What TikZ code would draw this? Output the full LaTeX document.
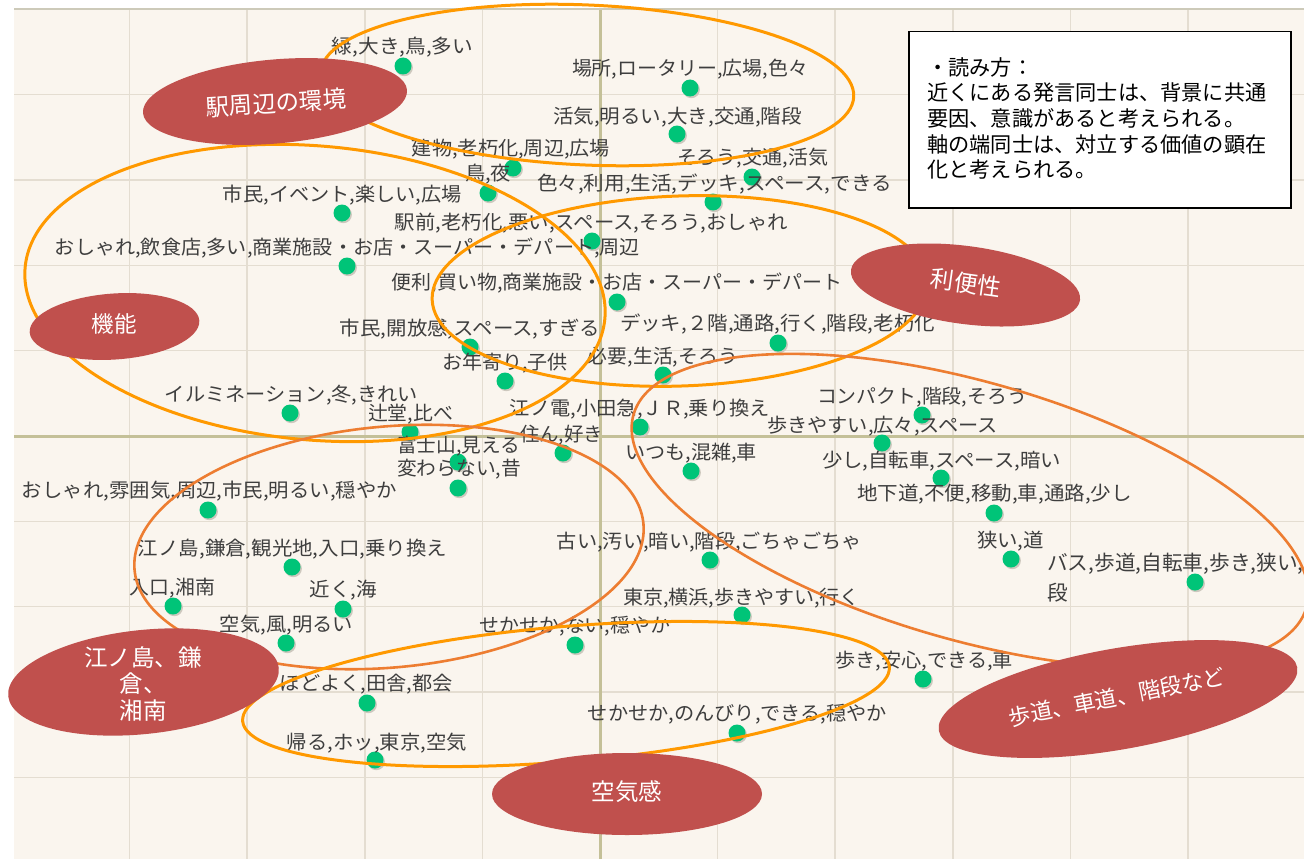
\documentclass[tikz,border=0pt]{standalone}
\usepackage{fontspec}
\usepackage{graphicx}
\setmainfont{Noto Sans CJK JP}
\usetikzlibrary{shapes.geometric}
\definecolor{bgc}{RGB}{250,245,238}
\definecolor{gridc}{RGB}{228,221,209}
\definecolor{axisc}{RGB}{196,192,152}
\definecolor{topc}{RGB}{205,202,185}
\definecolor{dotc}{RGB}{0,196,120}
\definecolor{shadowc}{RGB}{205,200,190}
\definecolor{txtc}{RGB}{62,62,62}
\definecolor{amber}{RGB}{255,153,0}
\definecolor{dorange}{RGB}{237,125,49}
\definecolor{redc}{RGB}{192,80,77}
\newcommand\kwpt[7]{%
  \fill[shadowc] (#2+1.3,#3+1.6) circle[radius=8.6];
  \node[dotn] (d#1) at (#2,#3) {};
  \node[lbl] (t#1) at (#4,#5) {\resizebox{#6pt}{\height}{#7}};
}
\begin{document}
\begin{tikzpicture}[x=1pt,y=-1pt,
  dotn/.style={circle,fill=dotc,minimum size=17pt,inner sep=0pt},
  lbl/.style={inner sep=0pt,text=txtc,font=\fontsize{19.5}{23}\selectfont,text height=17.2pt,text depth=2.3pt},
  ring/.style={ellipse,draw=#1,inner sep=0pt,line width=3pt},
  redlab/.style={ellipse,fill=redc,inner sep=0pt},
  redtxt/.style={text=white,inner sep=0pt,font=\fontsize{23.5}{26.5}\selectfont},
  gridl/.style={draw=gridc,line width=1.5pt},
  axisl/.style={draw=axisc,line width=3pt}]
\useasboundingbox (0,0) rectangle (1304,859);
\fill[white] (0,0) rectangle (1304,859);
\fill[bgc] (14,9) rectangle (1304,859);
% grid
\foreach \gx in {129.6,247.2,364.8,482.4,717.6,835.2,952.8,1070.4,1188}
  \draw[gridl] (\gx,9) -- (\gx,859);
\foreach \gy in {94.7,180,265.3,350.7,521.3,606.7,692,777.3}
  \draw[gridl] (14,\gy) -- (1304,\gy);
\draw[axisl] (600,9) -- (600,859);
\draw[axisl] (14,436) -- (1304,436);
\draw[topc,line width=2pt] (14,9) -- (1304,9);
% points
\kwpt{1}{403}{66}{402.5}{46}{141}{緑,大き,鳥,多い}
\kwpt{2}{690}{88}{690}{68}{236}{場所,ロータリー,広場,色々}
\kwpt{3}{677}{134}{677.5}{116}{249}{活気,明るい,大き,交通,階段}
\kwpt{4}{513}{168}{511}{148}{198}{建物,老朽化,周辺,広場}
\kwpt{5}{488}{193}{488}{173}{46}{鳥,夜}
\kwpt{6}{342}{213}{342.5}{194}{239}{市民,イベント,楽しい,広場}
\kwpt{7}{592}{241}{591.5}{222}{393}{駅前,老朽化,悪い,スペース,そろう,おしゃれ}
\kwpt{8}{347}{266}{347.5}{247}{585}{おしゃれ,飲食店,多い,商業施設・お店・スーパー・デパート,周辺}
\kwpt{9}{752}{177}{752.5}{157}{151}{そろう,交通,活気}
\kwpt{10}{713}{202}{714.5}{183}{355}{色々,利用,生活,デッキ,スペース,できる}
\kwpt{11}{617}{302}{617}{282}{450}{便利,買い物,商業施設・お店・スーパー・デパート}
\kwpt{12}{778}{343}{777.5}{323}{315}{デッキ,２階,通路,行く,階段,老朽化}
\kwpt{13}{470}{347}{470}{328}{260}{市民,開放感,スペース,すぎる}
\kwpt{14}{505}{381}{505}{362}{126}{お年寄り,子供}
\kwpt{15}{663}{375}{663}{356}{150}{必要,生活,そろう}
\kwpt{16}{290}{413}{291.5}{394}{253}{イルミネーション,冬,きれい}
\kwpt{17}{410}{432}{410.5}{413}{85}{辻堂,比べ}
\kwpt{18}{640}{427}{640}{408}{260}{江ノ電,小田急,ＪＲ,乗り換え}
\kwpt{19}{563}{453}{561.5}{434}{83}{住ん,好き}
\kwpt{20}{458}{462}{458.5}{445}{123}{富士山,見える}
\kwpt{21}{458}{488}{459}{468}{124}{変わらない,昔}
\kwpt{22}{691}{471}{691}{452}{132}{いつも,混雑,車}
\kwpt{23}{922}{415}{922}{396}{210}{コンパクト,階段,そろう}
\kwpt{24}{882}{443}{882.5}{425}{231}{歩きやすい,広々,スペース}
\kwpt{25}{941}{478}{941.5}{460}{239}{少し,自転車,スペース,暗い}
\kwpt{26}{994}{513}{994.5}{493}{275}{地下道,不便,移動,車,通路,少し}
\kwpt{27}{1011}{559}{1010.5}{540}{67}{狭い,道}
\fill[shadowc] (1195+1.3,582+1.6) circle[radius=8.6];
\node[dotn] (d28) at (1195,582) {};
\node[inner sep=0pt,text=txtc,font=\fontsize{20.7}{29.5}\selectfont,align=left,anchor=north west] (t28) at (1047,553) {バス,歩道,自転車,歩き,狭い,階\\段};
\kwpt{29}{208}{510}{209.5}{490}{375}{おしゃれ,雰囲気,周辺,市民,明るい,穏やか}
\kwpt{30}{292}{567}{292.5}{548}{309}{江ノ島,鎌倉,観光地,入口,乗り換え}
\kwpt{31}{710}{560}{709.5}{541}{305}{古い,汚い,暗い,階段,ごちゃごちゃ}
\kwpt{32}{173}{606}{172.5}{587}{85}{入口,湘南}
\kwpt{33}{343}{609}{343.5}{589}{67}{近く,海}
\kwpt{34}{286}{643}{286.5}{624}{133}{空気,風,明るい}
\kwpt{35}{742}{615}{741.5}{597}{237}{東京,横浜,歩きやすい,行く}
\kwpt{36}{575}{645}{575}{625}{190}{せかせか,ない,穏やか}
\kwpt{37}{923}{679}{924}{660}{178}{歩き,安心,できる,車}
\kwpt{38}{367}{703}{366.5}{683}{173}{ほどよく,田舎,都会}
\kwpt{39}{737}{733}{737.5}{713}{299}{せかせか,のんびり,できる,穏やか}
\kwpt{40}{375}{760}{377}{742}{180}{帰る,ホッ,東京,空気}
% group rings
\node[ring=amber,minimum width=534pt,minimum height=160pt,rotate=-2.5] (rA) at (587,85) {};
\node[ring=amber,minimum width=582pt,minimum height=294pt,rotate=-5] (rB) at (315,293) {};
\node[ring=amber,minimum width=496pt,minimum height=190pt,rotate=2] (rC) at (680,291) {};
\node[ring=dorange,line width=2.6pt,minimum width=511pt,minimum height=241pt,rotate=5.2] (rD) at (389,547) {};
\node[ring=dorange,line width=2.6pt,minimum width=700pt,minimum height=258pt,rotate=-16] (rE) at (970,511) {};
\node[ring=amber,minimum width=649pt,minimum height=135pt,rotate=4.8] (rF) at (566,694) {};
% red labels
\node[redlab,minimum width=265pt,minimum height=84pt,rotate=5] (e1) at (275,101.5) {};
\node[redtxt,rotate=3.5] (x1) at (276,103) {駅周辺の環境};
\node[redlab,minimum width=170pt,minimum height=66pt,rotate=4] (e2) at (114.5,326.5) {};
\node[redtxt,font=\fontsize{22.5}{26}\selectfont] (x2) at (114,324) {機能};
\node[redlab,minimum width=231pt,minimum height=78pt,rotate=-7.5] (e3) at (965.5,285) {};
\node[redtxt,rotate=-8] (x3) at (966,283) {利便性};
\node[redlab,minimum width=272pt,minimum height=104pt,rotate=6] (e4) at (143.5,682) {};
\node[redtxt,align=center] (x4) at (143,684) {江ノ島、鎌\\倉、\\湘南};
\node[redlab,minimum width=270pt,minimum height=82pt] (e5) at (627,794) {};
\node[redtxt] (x5) at (627,792) {空気感};
\node[redlab,minimum width=364pt,minimum height=101pt,rotate=10] (e6) at (1118,699) {};
\node[redtxt,font=\fontsize{22}{26}\selectfont,rotate=11] (x6) at (1117,697) {歩道、車道、階段など};
% note box
\node[draw=black,fill=white,line width=1.5pt,minimum width=382pt,minimum height=176pt,inner sep=0pt,anchor=north west] (note) at (908,31) {};
\node[anchor=north west,inner sep=0pt,align=left,text=black,font=\fontsize{21.2}{25.6}\selectfont] (notetxt) at (927,57.3) {・読み方：\\近くにある発言同士は、背景に共通\\要因、意識があると考えられる。\\軸の端同士は、対立する価値の顕在\\化と考えられる。};
\end{tikzpicture}
\end{document}
